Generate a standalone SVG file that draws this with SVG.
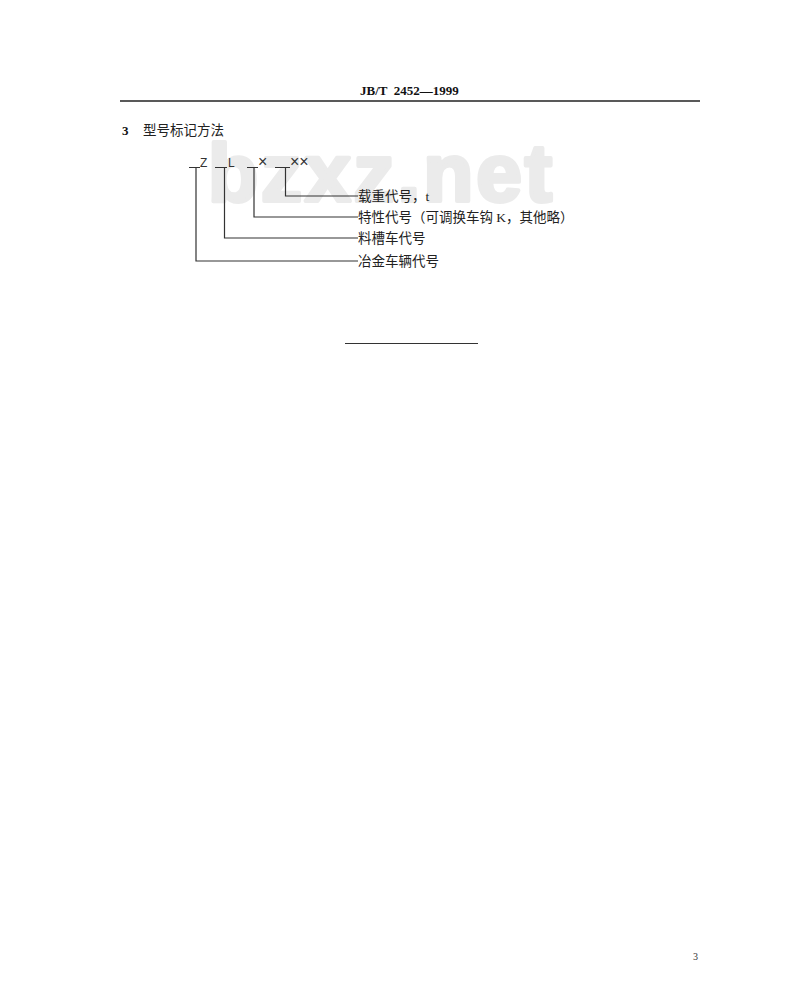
<svg xmlns="http://www.w3.org/2000/svg" width="800" height="996" viewBox="0 0 800 996">
<style>
.cn{font-family:"Liberation Serif","Noto Sans CJK SC",serif;font-size:13.5px;fill:#222}
.hd{font-family:"Liberation Serif","Noto Sans CJK SC",serif;font-weight:bold;fill:#111}
.ln{stroke:#333;stroke-width:1.2;fill:none}
.code{font-family:"Liberation Sans",sans-serif;font-size:12px;fill:#333}
.x{font-family:"Liberation Sans",sans-serif;font-size:16px;fill:#333}
.wm{font-family:"Liberation Sans",Arial,sans-serif;font-weight:700;font-size:82px;fill:#ebebeb;stroke:#ebebeb;stroke-width:4;stroke-linejoin:round}
</style>
<rect width="800" height="996" fill="#fff"/>
<text class="wm" x="208" y="201" textLength="344" lengthAdjust="spacing">bzxz.net</text>
<g id="header">
<text class="hd" x="360" y="95" font-size="13" xml:space="preserve">JB/T  2452—1999</text>
<line x1="120" y1="101" x2="700" y2="101" stroke="#222" stroke-width="1.5"/>
</g>
<g id="section">
<text class="hd" x="122" y="135" font-size="13">3</text>
<text class="cn" x="143" y="135" font-size="13">型号标记方法</text>
</g>
<g id="code">
<text class="code" x="200" y="167">Z</text>
<text class="code" x="228" y="167">L</text>
<text class="x" x="258" y="167">×</text>
<text class="x" x="290" y="167">××</text>
</g>
<g id="connectors">
<path class="ln" d="M189,167.5H200 M196,167.5V261H358"/>
<path class="ln" d="M215,167.5H227 M224.5,167.5V238H358"/>
<path class="ln" d="M247,167.5H258 M254,167.5V217H358"/>
<path class="ln" d="M275,167.5H290 M285.5,167.5V196H358"/>
</g>
<g id="label1"><text class="cn" x="358" y="201">载重代号，t</text></g>
<g id="label2"><text class="cn" x="358" y="222">特性代号（可调换车钩 K，其他略）</text></g>
<g id="label3"><text class="cn" x="358" y="243">料槽车代号</text></g>
<g id="label4"><text class="cn" x="358" y="266">冶金车辆代号</text></g>
<line x1="345" y1="343.5" x2="478" y2="343.5" stroke="#333" stroke-width="1.2"/>
<text x="693" y="960" font-family="Liberation Serif,serif" font-size="10" fill="#333">3</text>
</svg>
